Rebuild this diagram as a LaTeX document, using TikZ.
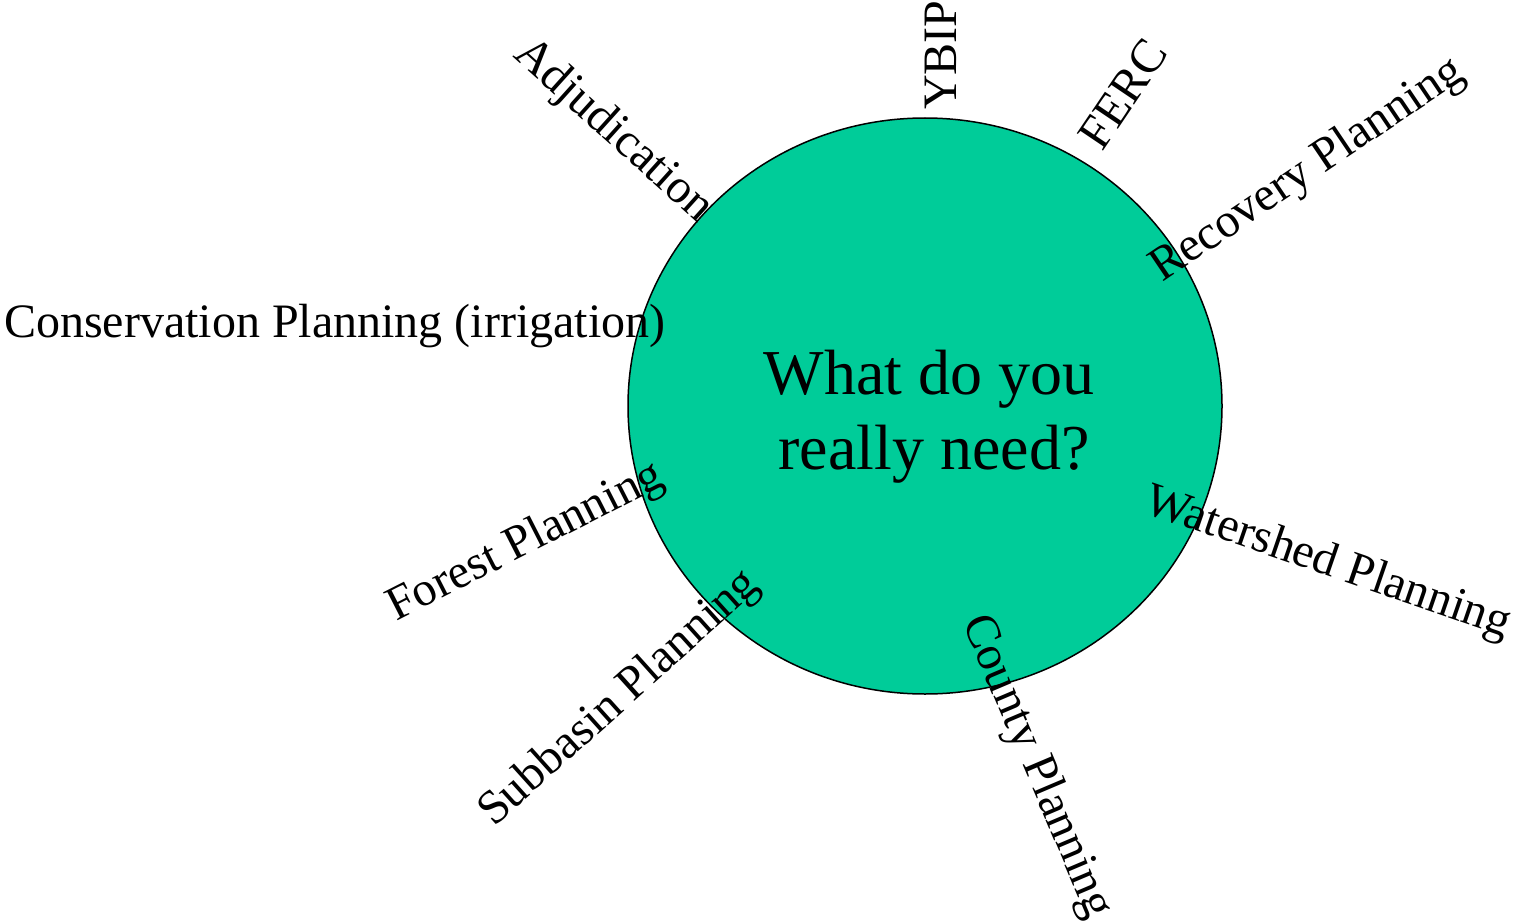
\documentclass[tikz,border=0pt]{standalone}
\usepackage{fontspec}
\setmainfont{Liberation Serif}
\usepackage{tikz}
\usetikzlibrary{shapes,positioning}

\definecolor{needgreen}{RGB}{0,204,153}

\begin{document}
\begin{tikzpicture}[x=1pt,y=-1pt]
	\tikzstyle{Bubble}   = [ellipse, draw, line width=1.5pt, fill=needgreen, minimum width=594pt, minimum height=576pt, inner sep=0pt]
	\tikzstyle{Question} = [align=center, inner sep=0pt, font=\fontsize{64}{75}\selectfont]
	\tikzstyle{Process}  = [anchor=base west, inner sep=0pt, font=\fontsize{48}{56}\selectfont]

	\useasboundingbox (0,0) rectangle (1513,923);

	\node (need) at (925,406) [Bubble] {};
	\node (question) at (929,417) [Question] {What do you\\ \hspace{10pt}really need?};

	\node (cons) at (4,337) [Process] {Conservation Planning (irrigation)};
	\node (adj) at (512,56) [Process, rotate=-42] {Adjudication};
	\node (ybip) at (956,110) [Process, rotate=90] {YBIP};
	\node (ferc) at (1102,153) [Process, rotate=56] {FERC};
	\node (recov) at (1162,283) [Process, rotate=34] {Recovery Planning};
	\node (water) at (1142,512) [Process, rotate=-19] {Watershed Planning};
	\node (county) at (962,622) [Process, rotate=-67] {County Planning};
	\node (subb) at (494,828) [Process, rotate=42] {Subbasin Planning};
	\node (forest) at (396,622) [Process, rotate=27] {Forest Planning};
\end{tikzpicture}
\end{document}
